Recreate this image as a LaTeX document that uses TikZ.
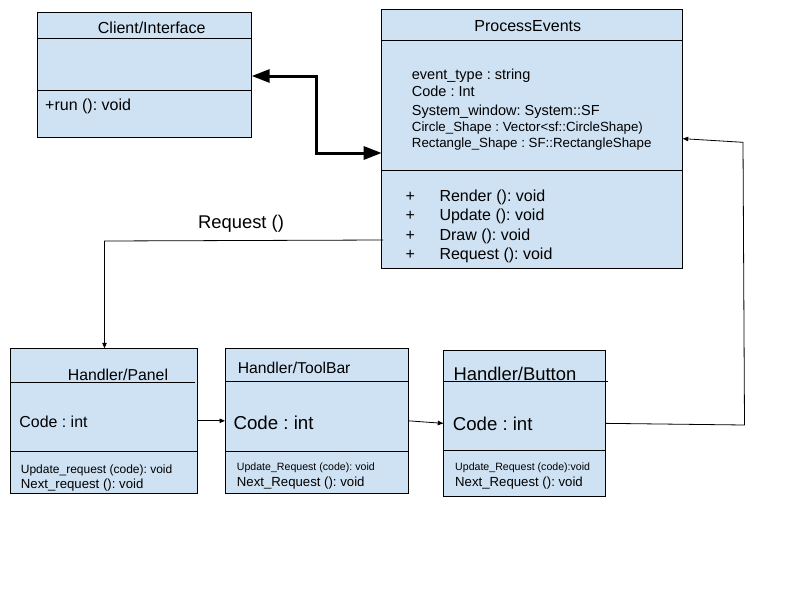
\documentclass[tikz,border=0pt]{standalone}
\usepackage{fontspec}
\setmainfont{Liberation Sans}
\usetikzlibrary{arrows.meta,calc}
\definecolor{boxblue}{RGB}{207,226,243}
\newcommand{\fsz}[1]{\fontsize{#1}{#1}\selectfont}
\frenchspacing
\tikzset{
  umlbox/.style={draw=black, fill=boxblue, line width=1pt, inner sep=0pt, outer sep=0pt, anchor=north west},
  txt/.style={inner sep=0pt, anchor=base west},
  ctxt/.style={inner sep=0pt, anchor=base},
  divider/.style={line width=0.9pt},
  thinarrow/.style={line width=0.8pt, -{Triangle[length=5.5pt,width=4.5pt]}},
  thickarrow/.style={line width=3pt, {Triangle[length=18pt,width=13pt]}-{Triangle[length=18pt,width=13pt]}},
}
\begin{document}
\begin{tikzpicture}[x=1pt,y=-1pt]
\useasboundingbox (0,0) rectangle (800,600);
\fill[white] (0,0) rectangle (800,600);

% ---------------- Client/Interface
\node[umlbox, minimum width=214.4pt, minimum height=124.7pt] (ci) at (37.3,12.3) {};
\draw[divider] (37.3,38.3) -- (251.7,38.3);
\draw[divider] (37.3,90) -- (251.7,90);
\node[ctxt, font=\fsz{16}] (ciT) at (151.7,33) {Client/Interface};
\node[txt, font=\fsz{16}] (ciM) at (45,110) {+run (): void};

% ---------------- ProcessEvents
\node[umlbox, minimum width=301pt, minimum height=258.7pt] (pe) at (381.7,9.3) {};
\draw[divider] (381.7,40.7) -- (682.7,40.7);
\draw[divider] (381.7,170.7) -- (682.7,170.7);
\node[ctxt, font=\fsz{16}] (peT) at (527.8,31) {ProcessEvents};
\node[txt, font=\fsz{14.5}] (pa1) at (411.7,79) {event\_type : string};
\node[txt, font=\fsz{14.5}] (pa2) at (411.7,96.7) {Code : Int};
\node[txt, font=\fsz{14.5}] (pa3) at (411.7,115) {System\_window: System::SF};
\node[txt, font=\fsz{13.3}] (pa4) at (411.7,131.7) {Circle\_Shape : Vector<sf::CircleShape)};
\node[txt, font=\fsz{13.3}] (pa5) at (411.7,147.7) {Rectangle\_Shape : SF::RectangleShape};
\node[txt, font=\fsz{16}] (pp1) at (405.5,201.7) {+};
\node[txt, font=\fsz{16}] (pp2) at (405.5,220.7) {+};
\node[txt, font=\fsz{16}] (pp3) at (405.5,240) {+};
\node[txt, font=\fsz{16}] (pp4) at (405.5,259) {+};
\node[txt, font=\fsz{16}] (pm1) at (439.3,201.7) {Render (): void};
\node[txt, font=\fsz{16}] (pm2) at (439.3,220.7) {Update (): void};
\node[txt, font=\fsz{16}] (pm3) at (439.3,240) {Draw (): void};
\node[txt, font=\fsz{16}] (pm4) at (439.3,259) {Request (): void};

% ---------------- Handler/Panel
\node[umlbox, minimum width=187pt, minimum height=145pt] (hp) at (10.7,348.3) {};
\draw[divider] (10.7,382.3) -- (195,382.3);
\draw[divider] (10.7,451.7) -- (197.7,451.7);
\node[txt, font=\fsz{15.8}] (hpT) at (67.7,380.7) {Handler/Panel};
\node[txt, font=\fsz{15.9}] (hpA) at (19.3,427.3) {Code : int};
\node[txt, font=\fsz{12}] (hpM1) at (20.7,473.3) {Update\_request (code): void};
\node[txt, font=\fsz{13.2}] (hpM2) at (20.7,488.3) {Next\_request (): void};

% ---------------- Handler/ToolBar
\node[umlbox, minimum width=183.3pt, minimum height=145pt] (ht) at (225,348.3) {};
\draw[divider] (225,381.7) -- (408.3,381.7);
\draw[divider] (225,451.7) -- (408.3,451.7);
\node[txt, font=\fsz{15.7}] (htT) at (237.7,373.3) {Handler/ToolBar};
\node[txt, font=\fsz{18.7}] (htA) at (233.3,429) {Code : int};
\node[txt, font=\fsz{10.6}] (htM1) at (236.7,470.7) {Update\_Request (code): void};
\node[txt, font=\fsz{13.2}] (htM2) at (236.7,486.7) {Next\_Request (): void};

% ---------------- Handler/Button
\node[umlbox, minimum width=162.4pt, minimum height=145.3pt] (hb) at (443.3,350.7) {};
\draw[divider] (443.3,381) -- (608,381);
\draw[divider] (443.3,450.7) -- (605.7,450.7);
\node[txt, font=\fsz{18.4}] (hbT) at (453.3,380) {Handler/Button};
\node[txt, font=\fsz{18.6}] (hbA) at (452.7,430.7) {Code : int};
\node[txt, font=\fsz{10.6}] (hbM1) at (455,470) {Update\_Request (code):void};
\node[txt, font=\fsz{13.2}] (hbM2) at (455,486) {Next\_Request (): void};

% ---------------- connectors
\coordinate (b1) at (316,76);
\coordinate (b2) at (316,153);
\draw[thickarrow] (ci.east |- b1) -- (b1) -- (b2) -- (pe.west |- b2);

\coordinate (r0) at (383,240);
\coordinate (r1) at (104.5,241);
\draw[thinarrow] (r0) -- (r1) -- (r1 |- hp.north);
\node[ctxt, font=\fsz{18.4}] (req) at (241,228) {Request ()};

\draw[thinarrow] (hp.east) -- (ht.west);
\draw[thinarrow] (ht.east) -- (hb.west);

\coordinate (c1) at (744.5,425);
\coordinate (c2) at (743,142.3);
\draw[thinarrow] (hb.east) -- (c1) -- (c2) -- (pe.east);
\end{tikzpicture}
\end{document}
